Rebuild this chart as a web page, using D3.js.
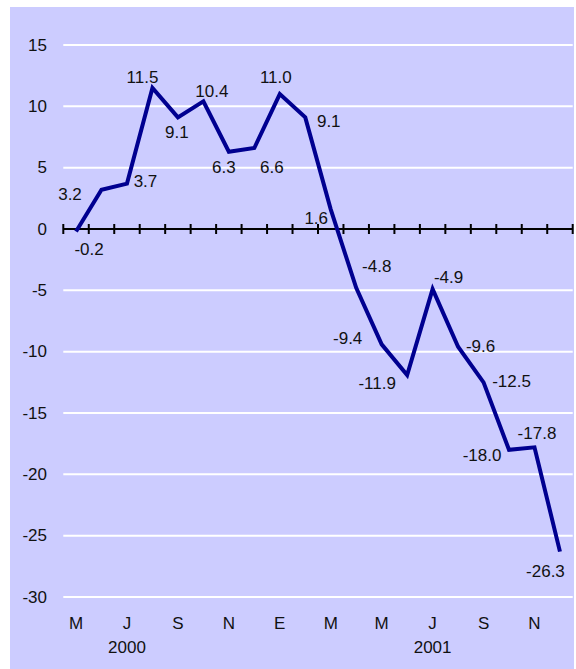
<!DOCTYPE html>
<html>
<head>
<meta charset="utf-8">
<script src="https://cdn.jsdelivr.net/npm/d3@7"></script>
<style>
  html, body { margin: 0; padding: 0; background: #fff; }
  svg text { font-family: "Liberation Sans", Arial, sans-serif; fill: #111; }
</style>
</head>
<body>
<svg id="chart" width="576" height="669"></svg>
<script>
// months May 2000 .. Dec 2001
const months = ['M', 'J', 'J', 'A', 'S', 'O', 'N', 'D', 'E', 'F', 'M', 'A', 'M', 'J', 'J', 'A', 'S', 'O', 'N', 'D']
const values = [-0.2, 3.2, 3.7, 11.5, 9.1, 10.4, 6.3, 6.6, 11.0, 9.1, 1.6, -4.8, -9.4, -11.9, -4.9, -9.6, -12.5, -18.0, -17.8, -26.3]
const shownMonth = [0, 2, 4, 6, 8, 10, 12, 14, 16, 18]
const years = [{ label: '2000', at: 2 }, { label: '2001', at: 14 }]
const yTicks = [15, 10, 5, 0, -5, -10, -15, -20, -25, -30]
// label placement relative to each point (label centre x, baseline y)
const labelOffsets = [
  [13, 23.5], [-31.5, 10], [18.5, 3.5], [-10, -5], [-1, 21], [8.5, -4.5], [-5, 21], [17.5, 25],
  [-4, -11], [23.5, 10], [-14.5, 14.5], [20.5, -16], [-34, 0], [-30, 14], [16, -6], [22.5, 5],
  [28, 4.5], [-27, 11], [2.5, -8], [-14.5, 25]
]

const svg = d3.select('#chart')
const left = 63.3, right = 572.7

svg.append('rect')
  .attr('x', 10).attr('y', 7).attr('width', 564).attr('height', 662)
  .attr('fill', '#ccccff')

const x = d3.scaleBand().domain(d3.range(values.length)).range([left, right])
const y = d3.scaleLinear().domain([-30, 15]).range([597, 45])

// gridlines
svg.append('g').selectAll('line')
  .data(yTicks.filter(d => d !== 0))
  .join('line')
  .attr('x1', left).attr('x2', right)
  .attr('y1', d => y(d)).attr('y2', d => y(d))
  .attr('stroke', '#fff').attr('stroke-width', 2)

// y labels
svg.append('g').selectAll('text')
  .data(yTicks)
  .join('text')
  .attr('x', 47).attr('y', d => y(d))
  .attr('text-anchor', 'end')
  .attr('dominant-baseline', 'central')
  .style('font-size', '17px')
  .text(d => d)

// zero axis with ticks at category boundaries
const axis = svg.append('g')
axis.append('line')
  .attr('x1', left).attr('x2', right)
  .attr('y1', y(0)).attr('y2', y(0))
  .attr('stroke', '#000').attr('stroke-width', 2)
const bounds = d3.range(values.length + 1).map(i => i < values.length ? x(i) : x(i - 1) + x.bandwidth())
axis.selectAll('line.tick')
  .data(bounds)
  .join('line')
  .attr('class', 'tick')
  .attr('x1', d => d).attr('x2', d => d)
  .attr('y1', y(0) - 5).attr('y2', y(0) + 5)
  .attr('stroke', '#000').attr('stroke-width', 2)

const cx = i => x(i) + x.bandwidth() / 2

// line
svg.append('path')
  .datum(values)
  .attr('fill', 'none')
  .attr('stroke', '#000090')
  .attr('stroke-width', 4)
  .attr('stroke-linejoin', 'miter')
  .attr('d', d3.line().x((d, i) => cx(i)).y(d => y(d)))

// data labels
svg.append('g').selectAll('text')
  .data(values)
  .join('text')
  .attr('x', (d, i) => cx(i) + labelOffsets[i][0])
  .attr('y', (d, i) => y(d) + labelOffsets[i][1])
  .attr('text-anchor', 'middle')
  .style('font-size', '17px')
  .text(d => d.toFixed(1))

// month labels
svg.append('g').selectAll('text')
  .data(shownMonth)
  .join('text')
  .attr('x', i => cx(i)).attr('y', 629)
  .attr('text-anchor', 'middle')
  .style('font-size', '17px')
  .text(i => months[i])

// year labels
svg.append('g').selectAll('text')
  .data(years)
  .join('text')
  .attr('x', d => cx(d.at)).attr('y', 653)
  .attr('text-anchor', 'middle')
  .style('font-size', '17px')
  .text(d => d.label)
</script>
</body>
</html>
